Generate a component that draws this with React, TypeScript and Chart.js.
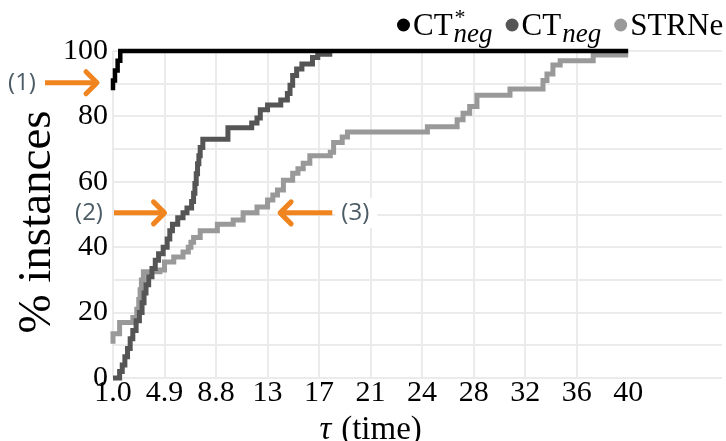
import React, { useEffect, useRef } from "react";
import { Chart, registerables } from "chart.js";

Chart.register(...registerables);

// ---- data ----
const blackX = [1.0, 1.0, 1.15, 1.35, 1.55, 40];
const blackY = [88, 91, 94, 97, 100, 100];

const darkX = [1.0, 1.5, 1.7, 1.9, 2.1, 2.3, 2.5, 2.75, 3.0, 3.2, 3.35, 3.5, 3.7, 3.95, 4.2, 4.45, 4.8, 5.1, 5.3, 5.5, 5.9, 6.3, 6.6, 6.95, 7.1, 7.2, 7.3, 7.4, 7.5, 7.6, 7.8, 9.7, 11.5, 11.9, 12.15, 12.7, 13.7, 14.2, 14.4, 14.6, 14.9, 15.3, 16.1, 16.5, 17.6];
const darkY = [0, 2, 4, 6.5, 9, 12, 14.5, 17.5, 20, 23, 26, 28.5, 31, 33.5, 36, 38, 40, 42.5, 45, 47, 49, 50.5, 52, 54, 56.5, 59.5, 62.5, 65.5, 68, 70.5, 73, 76.5, 78, 79.5, 82, 83.5, 85, 87, 89.5, 92.5, 94.5, 96, 98, 99, 99];

const greyX = [1.0, 1.0, 1.5, 2.5, 2.8, 2.95, 3.05, 3.15, 3.3, 4.55, 4.9, 5.6, 6.3, 6.7, 6.9, 7.1, 7.6, 8.9, 10.1, 10.85, 11.9, 12.7, 13.1, 13.45, 13.9, 14.6, 15.0, 15.4, 15.9, 17.45, 17.7, 18.35, 18.75, 24.8, 27.05, 27.5, 28.0, 28.55, 31.05, 33.55, 33.85, 34.3, 34.85, 37.35, 40];
const greyY = [10.5, 13.5, 17, 18.5, 21, 24, 27, 30, 32.5, 33, 35.5, 37, 38.5, 40, 41.5, 43, 45, 47, 48.3, 50.5, 52.3, 54.4, 56, 57.5, 60.5, 62.6, 64, 65.7, 68, 69, 72, 73.7, 75.2, 76.8, 79, 81, 83, 86.5, 88.4, 91, 93, 95.7, 97, 98.8, 98.8];

const xTickValues = [1.0, 4.9, 8.8, 12.7, 16.6, 20.5, 24.4, 28.3, 32.2, 36.1, 40];
const xTickLabels = ["1.0", "4.9", "8.8", "13", "17", "21", "24", "28", "32", "36", "40"];
const yLabelValues = [0, 20, 40, 60, 80, 100];

const seriesNames = ["CT*neg", "CTneg", "STRNe"];
const seriesColors = ["#000000", "#555555", "#999999"];

const annotations = [
  { label: "(1)", y: 90.3, dir: "right" },
  { label: "(2)", y: 50.5, dir: "right" },
  { label: "(3)", y: 50.5, dir: "left" },
];

const SERIF = "'Liberation Serif', 'DejaVu Serif', serif";
const SANS = "'Open Sans', 'Lato', 'Noto Sans', sans-serif";
const ORANGE = "#F0841F";
const NOTE = "#4b5c66";

function toPts(xs: number[], ys: number[]) {
  return xs.map((x, i) => ({ x, y: ys[i] }));
}

const overlayPlugin = {
  id: "overlay",
  afterDraw(chart: any) {
    const ctx = chart.ctx as CanvasRenderingContext2D;
    const xs = chart.scales.x;
    const ys = chart.scales.y;
    const area = chart.chartArea;
    ctx.save();

    // ---- legend ----
    let lx = 397;
    const cy = 25;
    const base = 35;
    const items = [
      { base: "CT", sup: "*", sub: "neg" },
      { base: "CT", sup: "", sub: "neg" },
      { base: "STRNe", sup: "", sub: "" },
    ];
    items.forEach((it, i) => {
      ctx.fillStyle = seriesColors[i];
      ctx.beginPath();
      ctx.arc(lx + 6.5, cy, 6.5, 0, Math.PI * 2);
      ctx.fill();
      ctx.fillStyle = "#000";
      ctx.textAlign = "left";
      ctx.textBaseline = "alphabetic";
      ctx.font = `31px ${SERIF}`;
      const tx = lx + 16;
      ctx.fillText(it.base, tx, base);
      let end = tx + ctx.measureText(it.base).width;
      let w = 0;
      if (it.sup) {
        ctx.font = `22px ${SERIF}`;
        ctx.fillText(it.sup, end + 2, 24);
        w = Math.max(w, ctx.measureText(it.sup).width + 2);
      }
      if (it.sub) {
        ctx.font = `italic 27px ${SERIF}`;
        ctx.fillText(it.sub, end + 1, 42);
        w = Math.max(w, ctx.measureText(it.sub).width + 1);
      }
      end += w;
      lx = end + 13;
    });

    // ---- axis titles ----
    ctx.fillStyle = "#000";
    ctx.save();
    ctx.translate(50, 222);
    ctx.rotate(-Math.PI / 2);
    ctx.font = `47px ${SERIF}`;
    ctx.textAlign = "center";
    ctx.textBaseline = "alphabetic";
    ctx.fillText("% instances", 0, 0);
    ctx.restore();

    const midX = xs.getPixelForValue((xTickValues[0] + xTickValues[xTickValues.length - 1]) / 2);
    ctx.font = `italic 33px ${SERIF}`;
    const tauW = ctx.measureText("τ").width;
    ctx.font = `33px ${SERIF}`;
    const restW = ctx.measureText("(time)").width;
    const gap = 10;
    const total = tauW + gap + restW;
    const sx = midX - total / 2;
    ctx.textAlign = "left";
    ctx.font = `italic 33px ${SERIF}`;
    ctx.fillText("τ", sx, 439);
    ctx.font = `33px ${SERIF}`;
    ctx.fillText("(time)", sx + tauW + gap, 439);

    // ---- annotations ----
    const drawBox = (x: number, y: number, w: number, h: number) => {
      ctx.fillStyle = "#ffffff";
      ctx.fillRect(x, y, w, h);
    };
    const drawArrow = (x0: number, x1: number, y: number) => {
      const d = x1 > x0 ? 1 : -1;
      ctx.strokeStyle = ORANGE;
      ctx.lineWidth = 5;
      ctx.lineCap = "butt";
      ctx.beginPath();
      ctx.moveTo(x0, y);
      ctx.lineTo(x1 - d * 2, y);
      ctx.stroke();
      ctx.lineCap = "round";
      ctx.lineJoin = "round";
      ctx.beginPath();
      ctx.moveTo(x1 - d * 11, y - 11);
      ctx.lineTo(x1, y);
      ctx.lineTo(x1 - d * 11, y + 11);
      ctx.stroke();
    };
    const drawNote = (text: string, cx: number, cyy: number) => {
      ctx.fillStyle = NOTE;
      ctx.font = `24px ${SANS}`;
      ctx.textAlign = "center";
      ctx.textBaseline = "middle";
      ctx.fillText(text, cx, cyy);
    };

    // (1)
    const y1 = ys.getPixelForValue(annotations[0].y);
    drawBox(2, y1 - 15, 38, 30);
    drawArrow(area.left - 68, area.left - 16, y1);
    drawNote(annotations[0].label, 22, y1);

    // (2)
    const y2 = ys.getPixelForValue(annotations[1].y);
    drawBox(68, y2 - 22, 42, 44);
    drawArrow(area.left + 1, xs.getPixelForValue(4.9), y2);
    drawNote(annotations[1].label, 89, y2);

    // (3)
    const y3 = ys.getPixelForValue(annotations[2].y);
    const tip3 = xs.getPixelForValue(13.65);
    const tail3 = xs.getPixelForValue(17.6);
    drawBox(tail3 + 3, y3 - 15, 42, 30);
    drawArrow(tail3, tip3, y3);
    drawNote(annotations[2].label, tail3 + 23, y3);

    ctx.restore();
  },
};

export default function App() {
  const ref = useRef<HTMLCanvasElement>(null);
  useEffect(() => {
    if (!ref.current) return;
    const gridColor = "#ebebeb";
    const chart = new Chart(ref.current, {
      type: "line",
      data: {
        datasets: [
          { label: seriesNames[0], data: toPts(blackX, blackY), borderColor: seriesColors[0], borderWidth: 4.5, stepped: true, pointRadius: 0, fill: false, clip: false as any },
          { label: seriesNames[1], data: toPts(darkX, darkY), borderColor: seriesColors[1], borderWidth: 5, stepped: true, pointRadius: 0, fill: false, clip: false as any },
          { label: seriesNames[2], data: toPts(greyX, greyY), borderColor: seriesColors[2], borderWidth: 5, stepped: true, pointRadius: 0, fill: false, clip: false as any },
        ],
      },
      options: {
        animation: false,
        responsive: false,
        devicePixelRatio: 1,
        layout: { padding: { top: 51, right: 4, left: 0, bottom: 0 } },
        plugins: { legend: { display: false }, tooltip: { enabled: false } },
        scales: {
          x: {
            type: "linear",
            min: 1,
            max: 47.1,
            afterBuildTicks: (s: any) => {
              s.ticks = xTickValues.map((v) => ({ value: v }));
            },
            afterFit: (s: any) => {
              s.height = 63;
            },
            ticks: {
              autoSkip: false,
              maxRotation: 0,
              padding: -3,
              color: "#000",
              font: { family: SERIF, size: 30 },
              callback: (v: any) => {
                const i = xTickValues.findIndex((t) => Math.abs(t - Number(v)) < 1e-6);
                return i >= 0 ? xTickLabels[i] : "";
              },
            },
            grid: {
              drawTicks: false,
              lineWidth: 2,
              color: (c: any) => (c.tick && Math.abs(c.tick.value - 40) < 1e-6 ? "rgba(0,0,0,0)" : gridColor),
            },
            border: { display: false },
          },
          y: {
            min: 0,
            max: 100,
            afterFit: (s: any) => {
              s.width = 113;
            },
            ticks: {
              stepSize: 10,
              autoSkip: false,
              padding: 5,
              color: "#000",
              font: { family: SERIF, size: 30 },
              callback: (v: any) => (yLabelValues.includes(Number(v)) ? String(v) : ""),
            },
            grid: { drawTicks: false, lineWidth: 2, color: gridColor },
            border: { display: false },
          },
        },
      },
      plugins: [overlayPlugin],
    });
    return () => chart.destroy();
  }, []);
  return (
    <div style={{ position: "fixed", left: 0, top: 0, width: 726, height: 441, background: "#fff" }}>
      <canvas ref={ref} width={726} height={441} />
    </div>
  );
}
